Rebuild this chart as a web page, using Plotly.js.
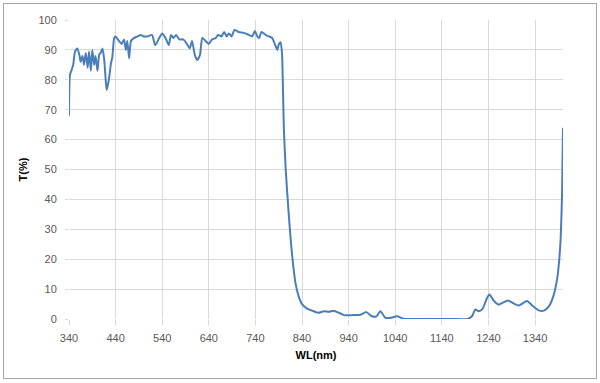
<!DOCTYPE html>
<html>
<head>
<meta charset="utf-8">
<script src="https://cdn.plot.ly/plotly-3.0.1.min.js"></script>
<style>
  html, body { margin: 0; padding: 0; background: #ffffff; }
  #wrap { position: relative; width: 600px; height: 383px; }
  #chart { width: 600px; height: 383px; }
  #frame { position: absolute; left: 3px; top: 3px; width: 592px; height: 374px; border: 1px solid #a6a6a6; pointer-events: none; }
</style>
</head>
<body>
<div id="wrap">
  <div id="chart"></div>
  <div id="frame"></div>
</div>
<script>
// Wavelength (nm)
const wavelength = [
  340, 342, 345, 349, 353, 358, 363, 365, 369, 372, 376, 380, 383, 387, 390, 394, 397, 401, 405, 408,
  412, 416, 419, 421, 426, 430, 433, 437, 440, 447, 453, 458, 462, 465, 469, 473, 480, 487, 494, 501,
  508, 518, 525, 533, 540, 547, 554, 559, 564, 570, 577, 585, 593, 599, 604, 610, 615, 621, 626, 633,
  640, 647, 655, 660, 667, 673, 678, 683, 689, 695, 704, 715, 726, 733, 739, 744, 748, 753, 762, 769,
  776, 781, 787, 790, 794, 797, 799, 801, 805, 812, 819, 826, 833, 840, 851, 865, 875, 887, 898, 908,
  919, 930, 950, 965, 978, 990, 1000, 1008, 1019, 1030, 1044, 1058, 1080, 1120, 1160, 1195, 1205, 1212, 1219, 1227,
  1237, 1242, 1252, 1262, 1270, 1282, 1294, 1305, 1323, 1334, 1348, 1359, 1370, 1380, 1388, 1392, 1395, 1398, 1400
];
// Transmission (%)
const transmission = [
  68, 81.6, 83, 85, 89.4, 90.5, 87.8, 86, 88, 85, 89, 84, 89.5, 83, 90, 85, 88, 83, 88.5, 89,
  90.5, 86, 79.4, 76.6, 80.5, 85.5, 87.6, 94, 94.5, 93, 92, 93.5, 90, 93, 87.2, 93, 94, 94.5, 95, 94.5,
  94.5, 95, 91.6, 93.8, 95.5, 94, 91.6, 95, 94, 95, 93.5, 93.5, 92, 90.5, 93, 88.3, 86.6, 88.3, 94, 93,
  92, 93.5, 94, 95, 94.5, 96, 94.5, 95.5, 94.5, 96.7, 96, 95.7, 95, 94.5, 96.3, 94.5, 94, 96, 95, 94.5,
  94, 92.2, 90, 91.8, 92.6, 89, 78, 64, 50, 34, 21, 12, 7.5, 5, 3.5, 2.6, 2.1, 2.6, 2.4, 2.8,
  2.1, 1.3, 1.3, 1.4, 2.3, 0.9, 0.9, 2.6, 0.4, 0.4, 0.9, 0.1, 0, 0, 0, 0, 1.0, 3.2, 2.6, 3.3,
  7, 8.2, 6, 4.8, 5.4, 6.2, 5.2, 4.5, 6, 4.5, 2.9, 2.8, 4.3, 8, 14, 20, 27, 42, 64
];
const xTicks = [340, 440, 540, 640, 740, 840, 940, 1040, 1140, 1240, 1340];
const yTicks = [0, 10, 20, 30, 40, 50, 60, 70, 80, 90, 100];

const trace = {
  x: wavelength,
  y: transmission,
  type: 'scatter',
  mode: 'lines',
  line: { color: '#4a7ebb', width: 2, shape: 'spline', smoothing: 0.6 },
  hoverinfo: 'x+y'
};

const layout = {
  width: 600,
  height: 383,
  margin: { l: 68.5, r: 37.3, t: 20, b: 63.5, pad: 0 },
  paper_bgcolor: '#ffffff',
  plot_bgcolor: '#ffffff',
  showlegend: false,
  font: { family: 'Liberation Sans, Arial, sans-serif', size: 11, color: '#595959' },
  xaxis: {
    range: [340, 1400],
    tickmode: 'array',
    tickvals: xTicks,
    ticktext: xTicks.map(String),
    showgrid: true,
    gridcolor: '#d9d9d9',
    gridwidth: 1,
    zeroline: false,
    showline: false,
    ticks: 'outside',
    ticklen: 5,
    tickcolor: '#d9d9d9',
    ticklabelstandoff: 4,
    tickfont: { size: 11, color: '#595959' },
    title: { text: 'WL(nm)', font: { size: 11, color: '#000000', family: 'Liberation Sans, Arial, sans-serif', weight: 'bold' }, standoff: 8 }
  },
  yaxis: {
    range: [0, 100],
    tickmode: 'array',
    tickvals: yTicks,
    ticktext: yTicks.map(String),
    showgrid: true,
    gridcolor: '#d9d9d9',
    gridwidth: 1,
    zeroline: false,
    showline: false,
    ticks: 'outside',
    ticklen: 3,
    tickcolor: '#d9d9d9',
    ticklabelstandoff: 6,
    tickfont: { size: 11, color: '#595959' },
    title: { text: 'T(%)', font: { size: 11, color: '#000000', family: 'Liberation Sans, Arial, sans-serif', weight: 'bold' }, standoff: 8 }
  }
};

Plotly.newPlot('chart', [trace], layout, { displayModeBar: false, staticPlot: true });
</script>
</body>
</html>
